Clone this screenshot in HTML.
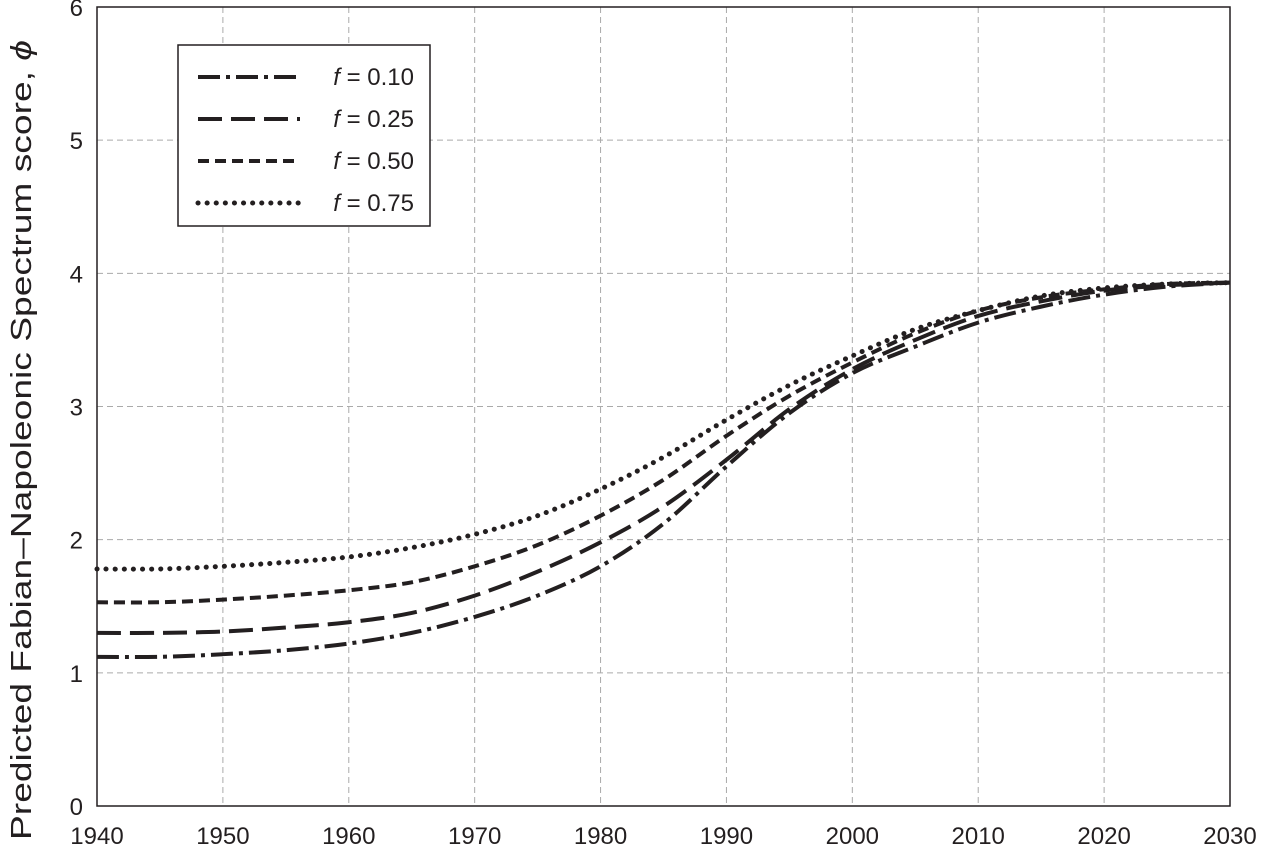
<!DOCTYPE html>
<html><head><meta charset="utf-8"><style>
body{margin:0;background:#fff;font-family:"Liberation Sans",sans-serif}
svg text{font-family:"Liberation Sans",sans-serif;fill:#231f20}
</style></head><body>
<svg id="chart" width="1261" height="855" xmlns="http://www.w3.org/2000/svg">
<g id="grid"></g>
<g id="series"></g>
<rect x="97" y="7" width="1133" height="799" fill="none" stroke="#231f20" stroke-width="1.5"/>
<g id="ticks"></g>
<text transform="translate(31,440) rotate(-90)" text-anchor="middle" font-size="29" textLength="800" lengthAdjust="spacingAndGlyphs">Predicted Fabian–Napoleonic Spectrum score, <tspan font-style="italic">ϕ</tspan></text>
<g id="legend">
<rect x="178" y="45" width="252" height="181" fill="#fff" stroke="#231f20" stroke-width="1.5"/>
</g>
</svg>
<script>
const years=[1940,1945,1950,1955,1960,1965,1970,1975,1980,1985,1990,1995,2000,2005,2010,2015,2020,2025,2030];
const f10=[1.12,1.12,1.14,1.17,1.22,1.30,1.42,1.58,1.80,2.12,2.55,2.95,3.25,3.45,3.63,3.75,3.84,3.90,3.93];
const f25=[1.30,1.30,1.31,1.34,1.38,1.45,1.58,1.76,1.98,2.25,2.60,2.98,3.28,3.50,3.68,3.79,3.87,3.91,3.93];
const f50=[1.53,1.53,1.55,1.58,1.62,1.68,1.80,1.96,2.18,2.45,2.78,3.08,3.33,3.55,3.72,3.82,3.88,3.92,3.93];
const f75=[1.78,1.78,1.80,1.83,1.87,1.94,2.04,2.18,2.38,2.62,2.90,3.16,3.38,3.58,3.72,3.83,3.89,3.92,3.93];
const xTicks=[1940,1950,1960,1970,1980,1990,2000,2010,2020,2030];
const yTicks=[0,1,2,3,4,5,6];
const seriesLabels=["0.10","0.25","0.50","0.75"];
const X=v=>97+(v-1940)/90*1133;
const Y=v=>806-v/6*799;
const NS="http://www.w3.org/2000/svg";
function mk(t,a,p){const e=document.createElementNS(NS,t);for(const k in a)e.setAttribute(k,a[k]);p.appendChild(e);return e;}
const grid=document.getElementById('grid'),ticks=document.getElementById('ticks');
xTicks.forEach(t=>{
 const l=mk('line',{x1:X(t),x2:X(t),y1:7,y2:806,stroke:'#aaa','stroke-dasharray':'6 4','stroke-width':1},grid);
 
 
 const tx=mk('text',{x:X(t),y:844,'text-anchor':'middle','font-size':24},ticks);
 tx.textContent=t;
 
 
});
yTicks.forEach(t=>{
 const l=mk('line',{x1:97,x2:1230,y1:Y(t),y2:Y(t),stroke:'#aaa','stroke-dasharray':'6 4','stroke-width':1},grid);
 
 
 const tx=mk('text',{x:83,y:Y(t)+9,'text-anchor':'end','font-size':24},ticks);
 tx.textContent=t;
 
 
});
const dashes=["22 6 4 6","24 9","11 6","0.1 9"];
const caps=["butt","butt","butt","round"];
const widths=[4,4,4,5];
const data=[f10,f25,f50,f75];
function path(vals){
 const p=years.map((y,i)=>[X(y),Y(vals[i])]);
 let d='M'+p[0][0]+','+p[0][1];
 for(let i=0;i<p.length-1;i++){
  const p0=p[Math.max(0,i-1)],p1=p[i],p2=p[i+1],p3=p[Math.min(p.length-1,i+2)];
  const c1=[p1[0]+(p2[0]-p0[0])/6,p1[1]+(p2[1]-p0[1])/6];
  const c2=[p2[0]-(p3[0]-p1[0])/6,p2[1]-(p3[1]-p1[1])/6];
  d+=` C${c1[0]},${c1[1]} ${c2[0]},${c2[1]} ${p2[0]},${p2[1]}`;
 }
 return d;
}
const sg=document.getElementById('series'),lg=document.getElementById('legend');
data.forEach((vals,i)=>{
 const pth=mk('path',{d:path(vals),fill:'none',stroke:'#231f20','stroke-width':widths[i],'stroke-dasharray':dashes[i],'stroke-linecap':caps[i]},sg);
 
 
 const ly=77+i*42;
 const ll=mk('line',{x1:198,x2:300,y1:ly,y2:ly,stroke:'#231f20','stroke-width':widths[i],'stroke-dasharray':dashes[i],'stroke-linecap':caps[i]},lg);
 
 
 const t=mk('text',{x:414,y:ly+8,'text-anchor':'end','font-size':24},lg);
 t.innerHTML='<tspan font-style="italic">f</tspan> = '+seriesLabels[i];
 
 
});
</script>
</body></html>
